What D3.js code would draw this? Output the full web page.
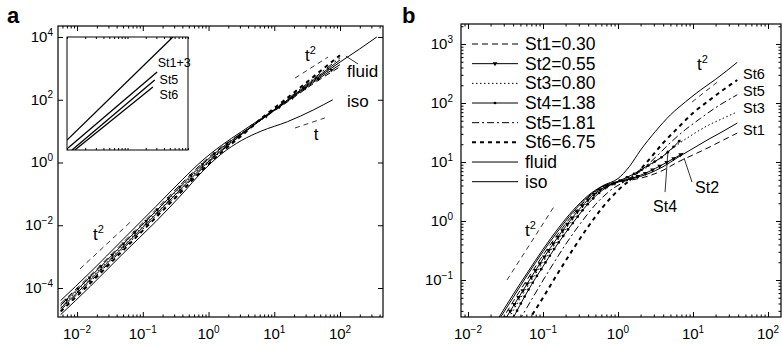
<!DOCTYPE html>
<html>
<head>
<meta charset="utf-8">
<script src="https://cdn.jsdelivr.net/npm/d3@7"></script>
<style>
  body { margin: 0; background: #fff; }
  text { font-family: "Liberation Sans", Arial, sans-serif; fill: #000; }
</style>
</head>
<body>
<svg id="chart" width="782" height="350"></svg>
<script>
// ---- data: every point is [log10(t), log10(value)] ----

// panel a : dispersion, fluid + particles + isotropic
const fluidA = [[-2.25,-4.4],[-1.8,-3.5],[-1.3,-2.45],[-0.8,-1.4],[-0.4,-0.55],[-0.1,0.05],[0.2,0.55],[0.5,0.98],[0.8,1.4],[1.2,1.98],[1.6,2.6],[2.0,3.2],[2.3,3.62],[2.56,4.0]];
const st1A = [[-2.25,-4.5],[-1.8,-3.6],[-1.3,-2.55],[-0.8,-1.5],[-0.4,-0.65],[-0.1,-0.03],[0.2,0.5],[0.5,0.93],[0.8,1.36],[1.2,1.93],[1.6,2.52],[2.0,3.05]];
const st2A = [[-2.25,-4.55],[-1.8,-3.65],[-1.3,-2.6],[-0.8,-1.55],[-0.4,-0.7],[-0.1,-0.07],[0.2,0.47],[0.5,0.92],[0.8,1.36],[1.2,1.95],[1.6,2.56],[2.0,3.12]];
const st3A = [[-2.25,-4.6],[-1.8,-3.7],[-1.3,-2.65],[-0.8,-1.6],[-0.4,-0.75],[-0.1,-0.12],[0.2,0.43],[0.5,0.9],[0.8,1.36],[1.2,1.97],[1.6,2.6],[2.0,3.2]];
const st4A = [[-2.25,-4.65],[-1.8,-3.75],[-1.3,-2.7],[-0.8,-1.65],[-0.4,-0.8],[-0.1,-0.16],[0.2,0.4],[0.5,0.89],[0.8,1.37],[1.2,1.99],[1.6,2.64],[2.0,3.27]];
const st5A = [[-2.25,-4.7],[-1.8,-3.8],[-1.3,-2.75],[-0.8,-1.7],[-0.4,-0.85],[-0.1,-0.2],[0.2,0.37],[0.5,0.88],[0.8,1.38],[1.2,2.02],[1.6,2.68],[2.0,3.34]];
const st6A = [[-2.25,-4.75],[-1.8,-3.85],[-1.3,-2.8],[-0.8,-1.75],[-0.4,-0.9],[-0.1,-0.25],[0.2,0.33],[0.5,0.85],[0.8,1.4],[1.2,2.06],[1.6,2.74],[2.0,3.42]];
const isoA = [[-2.25,-4.85],[-1.8,-3.95],[-1.3,-2.9],[-0.8,-1.88],[-0.4,-1.0],[-0.1,-0.3],[0.2,0.28],[0.5,0.7],[0.8,1.0],[1.2,1.3],[1.6,1.68],[1.89,2.0]];

// panel a inset (log10 x, log10 y)
const insetTop = [[0,0.35],[1.75,4.0]];
const insetL2 = [[0.017,0.07],[1.49,2.76]];
const insetL3 = [[0.083,0],[1.45,2.48]];
const insetL4 = [[0.13,0],[1.42,2.23]];
const insetLabels = ["St1+3","St5","St6"];
const insetLabelPos = [[1.5,3.08],[1.53,2.51],[1.53,1.95]];

// panel b : Stokes number series
const fluidB = [[-1.62,-1.7],[-1.4,-1.25],[-1.2,-0.86],[-1.0,-0.48],[-0.8,-0.13],[-0.6,0.18],[-0.4,0.43],[-0.2,0.6],[0.0,0.72],[0.15,0.92],[0.3,1.2],[0.5,1.52],[0.7,1.8],[0.9,2.02],[1.1,2.22],[1.3,2.4],[1.59,2.69]];
const isoB = [[-1.6,-1.7],[-1.4,-1.3],[-1.2,-0.9],[-1.0,-0.52],[-0.8,-0.17],[-0.6,0.15],[-0.4,0.41],[-0.2,0.59],[0,0.67],[0.2,0.72],[0.4,0.8],[0.6,0.92],[0.8,1.08],[1.0,1.23],[1.2,1.38],[1.4,1.52],[1.59,1.66]];
const st1B = [[-1.56,-1.7],[-1.4,-1.37],[-1.2,-0.97],[-1.0,-0.58],[-0.8,-0.22],[-0.6,0.11],[-0.4,0.39],[-0.2,0.58],[0,0.66],[0.2,0.7],[0.4,0.76],[0.6,0.86],[0.8,1.0],[1.0,1.12],[1.2,1.24],[1.4,1.37],[1.59,1.49]];
const st2B = [[-1.52,-1.7],[-1.4,-1.45],[-1.2,-1.04],[-1.0,-0.64],[-0.8,-0.27],[-0.6,0.07],[-0.4,0.36],[-0.2,0.56],[0,0.66],[0.2,0.73],[0.4,0.83],[0.6,0.96],[0.87,1.15]];
const st3B = [[-1.48,-1.7],[-1.2,-1.1],[-1.0,-0.7],[-0.8,-0.32],[-0.6,0.03],[-0.4,0.33],[-0.2,0.55],[0,0.67],[0.2,0.77],[0.4,0.92],[0.6,1.1],[0.8,1.3],[1.0,1.47],[1.2,1.62],[1.4,1.74],[1.59,1.85]];
const st4B = [[-1.42,-1.7],[-1.2,-1.18],[-1.0,-0.77],[-0.8,-0.38],[-0.6,-0.03],[-0.4,0.29],[-0.2,0.53],[0,0.67],[0.2,0.79],[0.4,0.94],[0.6,1.1],[0.83,1.37]];
const st5B = [[-1.32,-1.7],[-1.1,-1.22],[-0.9,-0.8],[-0.7,-0.4],[-0.5,-0.04],[-0.3,0.28],[-0.1,0.52],[0.1,0.68],[0.3,0.85],[0.5,1.08],[0.7,1.33],[0.9,1.55],[1.1,1.74],[1.3,1.92],[1.59,2.14]];
const st6B = [[-1.2,-1.7],[-1.0,-1.3],[-0.8,-0.88],[-0.6,-0.48],[-0.4,-0.1],[-0.2,0.24],[0,0.52],[0.2,0.74],[0.4,1.02],[0.6,1.32],[0.8,1.58],[1.0,1.83],[1.2,2.03],[1.4,2.22],[1.59,2.39]];

const legendNames = ["St1=0.30","St2=0.55","St3=0.80","St4=1.38","St5=1.81","St6=6.75","fluid","iso"];

// reference slopes and annotations, log10 coords
const refA = [
  {pts:[[-1.955,-3.39],[-1.19,-1.9]], label:"t", sup:"2", at:[-1.757,-2.47]},
  {pts:[[1.316,2.69],[1.817,3.36]], label:"t", sup:"2", at:[1.468,3.235]},
  {pts:[[1.316,1.10],[1.77,1.42]], label:"t", sup:"", at:[1.60,0.717]}
];
const curveLabelsA = [{text:"fluid", at:[2.106,2.725], lead:[[2.09,3.39],[2.274,3.14]]},
                      {text:"iso", at:[2.106,1.77], lead:null}];
const refB = [
  {pts:[[-1.48,-1.0],[-0.84,0.27]], label:"t", sup:"2", at:[-1.24,-0.254]},
  {pts:[[0.987,2.017],[1.36,2.39]], label:"t", sup:"2", at:[1.053,2.56]}
];
const rightLabelsB = [{text:"St6", at:[1.667,2.49]},{text:"St5", at:[1.667,2.20]},
                      {text:"St3", at:[1.667,1.915]},{text:"St1", at:[1.667,1.54]}];
const innerLabelsB = [{text:"St4", at:[0.627,0.153], lead:[[0.667,1.2],[0.627,0.49]], anchor:"middle"},
                      {text:"St2", at:[1.027,0.475], lead:[[0.88,1.068],[0.987,0.66]], anchor:"start"}];

// ---- drawing ----
const svg = d3.select("#chart");
const p10 = v => Math.pow(10, v);

const styles = [
  {dash:"6,4", w:1, mark:null},
  {dash:null, w:1, mark:"tri"},
  {dash:"1.5,2.5", w:1, mark:null},
  {dash:null, w:1, mark:"dot"},
  {dash:"7,3,2,3", w:1, mark:null},
  {dash:"4,4", w:2, mark:null},
  {dash:null, w:1, mark:null},
  {dash:null, w:1, mark:null}
];

function supText(sel, base, exp, size, supSize) {
  sel.append("tspan").attr("font-size", size).text(base);
  if (exp !== "") sel.append("tspan").attr("font-size", supSize).attr("dy", -size * 0.42).text(exp);
}
function expLabel(n) { return n < 0 ? "\u2212" + (-n) : String(n); }

function frame(g, x, y, xDec, yDec, yLabelDec, xMinor, yMinor, yLabelX) {
  const [x0, x1] = x.range(), [y0, y1] = y.range();
  g.append("rect").attr("x", x0).attr("y", y1).attr("width", x1 - x0).attr("height", y0 - y1)
    .attr("fill", "none").attr("stroke", "#000").attr("stroke-width", 1.2);
  const xt = xDec.map(p10), yt = yDec.map(p10);
  const axes = [
    [d3.axisBottom(x).tickValues(xt).tickSize(-5), `translate(0,${y0})`],
    [d3.axisTop(x).tickValues(xt).tickSize(-5), `translate(0,${y1})`],
    [d3.axisLeft(y).tickValues(yt).tickSize(-5), `translate(${x0},0)`],
    [d3.axisRight(y).tickValues(yt).tickSize(-5), `translate(${x1},0)`]
  ];
  if (xMinor) {
    const mt = x.ticks().filter(v => !xt.some(t => Math.abs(t - v) / v < 1e-6));
    axes.push([d3.axisBottom(x).tickValues(mt).tickSize(-2.5), `translate(0,${y0})`]);
    axes.push([d3.axisTop(x).tickValues(mt).tickSize(-2.5), `translate(0,${y1})`]);
  }
  if (yMinor) {
    const mt = y.ticks().filter(v => !yt.some(t => Math.abs(t - v) / v < 1e-6));
    axes.push([d3.axisLeft(y).tickValues(mt).tickSize(-2.5), `translate(${x0},0)`]);
    axes.push([d3.axisRight(y).tickValues(mt).tickSize(-2.5), `translate(${x1},0)`]);
  }
  axes.forEach(([ax, tr]) => {
    const a = g.append("g").attr("transform", tr).call(ax.tickFormat(""));
    a.select(".domain").remove();
    a.selectAll("line").attr("stroke", "#000");
  });
  xDec.forEach(d => {
    g.append("text").attr("x", x(p10(d))).attr("y", 339).attr("text-anchor", "middle")
      .call(s => supText(s, "10", expLabel(d), 15, 10));
  });
  yLabelDec.forEach(d => {
    g.append("text").attr("x", yLabelX).attr("y", y(p10(d)) + 5).attr("text-anchor", "end")
      .call(s => supText(s, "10", expLabel(d), 15, 10));
  });
}

function drawSeries(g, x, y, data, st, markEvery, markScale) {
  const line = d3.line().x(d => x(p10(d[0]))).y(d => y(p10(d[1]))).curve(d3.curveMonotoneX);
  const path = g.append("path").datum(data).attr("d", line).attr("fill", "none")
    .attr("stroke", "#000").attr("stroke-width", st.w);
  if (st.dash) path.attr("stroke-dasharray", st.dash);
  if (st.mark) {
    const n = path.node(), L = n.getTotalLength();
    const pts = d3.range(markEvery / 2, L, markEvery).map(l => n.getPointAtLength(l));
    drawMarks(g, pts, st.mark, markScale);
  }
}
function drawMarks(g, pts, kind, k) {
  if (kind === "dot") {
    g.selectAll(null).data(pts).enter().append("circle")
      .attr("cx", d => d.x).attr("cy", d => d.y).attr("r", 1.6 * k).attr("fill", "#000");
  } else {
    g.selectAll(null).data(pts).enter().append("path")
      .attr("d", d3.symbol(d3.symbolTriangle, 13 * k * k))
      .attr("transform", d => `translate(${d.x},${d.y}) rotate(180)`).attr("fill", "#000");
  }
}
function drawRef(g, x, y, r, fs) {
  g.append("path").datum(r.pts)
    .attr("d", d3.line().x(d => x(p10(d[0]))).y(d => y(p10(d[1]))))
    .attr("fill", "none").attr("stroke", "#000").attr("stroke-width", 0.8).attr("stroke-dasharray", "5,4");
  g.append("text").attr("x", x(p10(r.at[0]))).attr("y", y(p10(r.at[1])))
    .call(s => supText(s, r.label, r.sup, fs, 11));
}

// panel a
const xA = d3.scaleLog().domain([p10(-2.29), p10(2.654)]).range([58, 383]);
const yA = d3.scaleLog().domain([p10(-4.924), p10(4.35)]).range([317, 26]);
const gA = svg.append("g");
gA.append("clipPath").attr("id", "clipA").append("rect")
  .attr("x", 58).attr("y", 26).attr("width", 325).attr("height", 291);
frame(gA, xA, yA, [-2,-1,0,1,2], [-4,-2,0,2,4], [-4,-2,0,2,4], true, false, 53);
const plotA = gA.append("g").attr("clip-path", "url(#clipA)");
[st1A, st2A, st3A, st4A, st5A, st6A, fluidA, isoA].forEach((s, i) => drawSeries(plotA, xA, yA, s, styles[i], 16, 0.7));
refA.forEach(r => drawRef(gA, xA, yA, r, 17));
curveLabelsA.forEach(c => {
  gA.append("text").attr("x", xA(p10(c.at[0]))).attr("y", yA(p10(c.at[1]))).attr("font-size", 17).text(c.text);
  if (c.lead) gA.append("path").datum(c.lead)
    .attr("d", d3.line().x(d => xA(p10(d[0]))).y(d => yA(p10(d[1]))))
    .attr("stroke", "#000").attr("stroke-width", 0.8);
});
svg.append("text").attr("x", 7).attr("y", 23).attr("font-size", 22).attr("font-weight", "bold").text("a");

// inset
const xI = d3.scaleLog().domain([1, 100]).range([67, 188]);
const yI = d3.scaleLog().domain([1, 1e4]).range([150, 37]);
const gI = gA.append("g");
gI.append("rect").attr("x", 67).attr("y", 37).attr("width", 121).attr("height", 113)
  .attr("fill", "#fff").attr("stroke", "#000").attr("stroke-width", 1);
gI.append("clipPath").attr("id", "clipI").append("rect").attr("x", 67).attr("y", 37).attr("width", 121).attr("height", 113);
const inI = gI.append("g").attr("clip-path", "url(#clipI)");
[insetTop, insetL2, insetL3, insetL4].forEach(s => {
  inI.append("path").datum(s).attr("d", d3.line().x(d => xI(p10(d[0]))).y(d => yI(p10(d[1]))))
    .attr("fill", "none").attr("stroke", "#000").attr("stroke-width", 1.3);
});
[[d3.axisBottom, 150], [d3.axisTop, 37]].forEach(([ax, yy]) => {
  const a = gI.append("g").attr("transform", `translate(0,${yy})`)
    .call(ax(xI).tickValues(xI.ticks()).tickSize(-2).tickFormat(""));
  a.select(".domain").remove();
});
insetLabels.forEach((t, i) => {
  gI.append("text").attr("x", xI(p10(insetLabelPos[i][0]))).attr("y", yI(p10(insetLabelPos[i][1])) + 4.5)
    .attr("font-size", 12.5).text(t);
});

// panel b
const xB = d3.scaleLog().domain([p10(-2.093), p10(2.173)]).range([461, 781]);
const yB = d3.scaleLog().domain([p10(-1.627), p10(3.339)]).range([317, 24]);
const gB = svg.append("g");
gB.append("clipPath").attr("id", "clipB").append("rect")
  .attr("x", 461).attr("y", 24).attr("width", 320).attr("height", 293);
frame(gB, xB, yB, [-2,-1,0,1,2], [-1,0,1,2,3], [-1,0,1,2,3], true, true, 453);
const plotB = gB.append("g").attr("clip-path", "url(#clipB)");
[st1B, st2B, st3B, st4B, st5B, st6B, fluidB, isoB].forEach((s, i) => drawSeries(plotB, xB, yB, s, styles[i], 8, 0.85));
refB.forEach(r => drawRef(gB, xB, yB, r, 17));
rightLabelsB.forEach(c => {
  gB.append("text").attr("x", xB(p10(c.at[0]))).attr("y", yB(p10(c.at[1])) + 5).attr("font-size", 14.5).text(c.text);
});
innerLabelsB.forEach(c => {
  gB.append("path").datum(c.lead).attr("d", d3.line().x(d => xB(p10(d[0]))).y(d => yB(p10(d[1]))))
    .attr("stroke", "#000").attr("stroke-width", 0.8);
  gB.append("text").attr("x", xB(p10(c.at[0]))).attr("y", yB(p10(c.at[1]))).attr("text-anchor", c.anchor)
    .attr("font-size", 16).text(c.text);
});
svg.append("text").attr("x", 402).attr("y", 23).attr("font-size", 22).attr("font-weight", "bold").text("b");

// legend
const leg = gB.append("g");
legendNames.forEach((name, i) => {
  const yy = 44 + i * 19.67, st = styles[i];
  const ln = leg.append("line").attr("x1", 472).attr("x2", 518).attr("y1", yy).attr("y2", yy)
    .attr("stroke", "#000").attr("stroke-width", st.w);
  if (st.dash) ln.attr("stroke-dasharray", st.dash);
  if (st.mark) drawMarks(leg, [{x: 495, y: yy}], st.mark, 0.85);
  leg.append("text").attr("x", 525).attr("y", yy + 6).attr("font-size", 17.5).text(name);
});
</script>
</body>
</html>
